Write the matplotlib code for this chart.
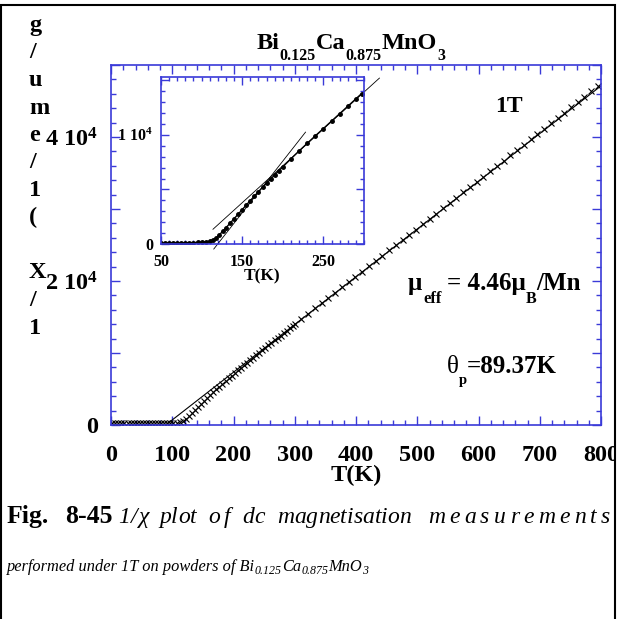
import matplotlib
matplotlib.use("Agg")
import matplotlib.pyplot as plt
from matplotlib.patches import Rectangle
from matplotlib.ticker import MultipleLocator

plt.rcParams["font.family"] = ["Liberation Serif", "DejaVu Serif"]
plt.rcParams["font.weight"] = "bold"
plt.rcParams["axes.labelweight"] = "bold"
plt.rcParams["mathtext.fontset"] = "custom"
plt.rcParams["mathtext.rm"] = "Liberation Serif:bold"
plt.rcParams["mathtext.bf"] = "Liberation Serif:bold"
plt.rcParams["mathtext.it"] = "Liberation Serif:bold"
plt.rcParams["mathtext.default"] = "rm"
plt.rcParams["xtick.direction"] = "in"
plt.rcParams["ytick.direction"] = "in"

W, H = 621, 619
BLUE = "#3a3ad8"

# main panel: 1/chi vs T, 1 T
T_main = [2, 7, 12, 17, 22, 27, 32, 37, 42, 47, 52, 57, 62, 67, 72, 77, 82, 87, 92, 97,
          102, 107, 112, 117, 122, 127, 132, 137, 142, 147, 152, 157, 162, 167, 172, 177,
          182, 187, 192, 197, 202, 207, 212, 217, 222, 227, 232, 237, 242, 247, 252, 257,
          262, 267, 272, 277, 282, 287, 292, 297,
          300, 311, 322, 333, 344, 355, 366, 377, 388, 399, 410, 421, 432, 443, 454, 465,
          476, 487, 498, 509, 520, 531, 542, 553, 564, 575, 586, 597, 608, 619, 630, 641,
          652, 663, 674, 685, 696, 707, 718, 729, 740, 751, 762, 773, 784, 795]
inv_main = [260, 250, 255, 250, 260, 255, 265, 260, 270, 265, 275, 270, 280, 285, 290, 290,
            300, 305, 310, 320,
            320, 330, 380, 560, 850, 1250, 1650, 2060, 2480, 2900, 3320, 3740, 4150, 4550,
            4950, 5340, 5720, 6100, 6480, 6850, 7220, 7580, 7940, 8300, 8650, 9000, 9350,
            9700, 10040, 10380, 10720, 11060, 11400, 11740, 12080, 12420, 12760, 13100,
            13440, 13780,
            14000, 14750, 15450, 16200, 16950, 17650, 18400, 19120, 19850, 20600, 21300,
            22050, 22800, 23500, 24250, 24980, 25700, 26450, 27150, 27900, 28650, 29350,
            30100, 30850, 31550, 32300, 33050, 33780, 34500, 35250, 35980, 36720, 37450,
            38200, 38930, 39680, 40420, 41160, 41900, 42640, 43380, 44120, 44860, 45600,
            46340, 47080]
fit_T = [89.37, 800]
fit_v = [0, 47100]

# inset: low temperature zoom
T_in = [50, 55, 60, 65, 70, 75, 80, 85, 90, 95, 100, 105, 110, 114, 118, 122, 126, 130,
        135, 140, 145, 150, 155, 160, 165, 170, 175, 180, 185, 190, 195, 200, 210, 220,
        230, 240, 250, 260, 270, 280, 290, 297]
inv_in = [80, 80, 90, 90, 100, 100, 110, 120, 130, 150, 170, 200, 260, 380, 560, 850,
          1170, 1490, 1900, 2320, 2730, 3150, 3570, 3980, 4390, 4790, 5190, 5570, 5950,
          6330, 6700, 7070, 7800, 8520, 9220, 9910, 10580, 11260, 11940, 12620, 13300, 13780]
steep_T = [115, 228]
steep_v = [-460, 10250]
cw_T = [114, 319]
cw_v = [1350, 15200]

main_yticks = [0, 10000, 20000, 30000, 40000, 50000]
main_ylabels = ["0", "", "2 10$^4$", "", "4 10$^4$", ""]
in_yticks = [0, 5000, 10000, 15000]
in_ylabels = ["0", "", "1 10$^4$", ""]

ylabel_chars = list("g/ume/1( X/1")
caption_words = ["1/", "\u03c7", "plot", "of", "dc", "magnetisation", "measurements"]
caption_spans = [(118, 132), (139, 148), (159, 197), (208, 230), (242, 263), (277, 403), (428, 610)]

fig = plt.figure(figsize=(W / 100, H / 100), dpi=100)
r = fig.canvas.get_renderer()


def style_axes(a, major_len, minor_len):
    for s in a.spines.values():
        s.set_color(BLUE)
        s.set_linewidth(1.2)
    a.tick_params(which="both", top=True, right=True, color=BLUE, width=1)
    a.tick_params(which="major", length=major_len)
    a.tick_params(which="minor", length=minor_len)


def put(x, y, parts, ha="left"):
    """parts: (text, size, drop_px, gap_px, kwargs), placed on one baseline"""
    arts = []
    for s, size, drop, gap, kw in parts:
        t = fig.text(0, 0, s, fontsize=size, va="baseline", ha="left", **kw)
        arts.append((t, drop, gap, t.get_window_extent(r).width))
    if ha == "center":
        x -= sum(w + g for _, _, g, w in arts) / 2
    for t, drop, gap, w in arts:
        x += gap
        t.set_position((x / W, 1 - (y + drop) / H))
        x += w


def spread(x0, x1, y, word, **kw):
    """letters of one word stretched between x0 and x1 (justified caption)"""
    arts = [fig.text(0, 0, c, va="baseline", ha="left", **kw) for c in word]
    ws = [t.get_window_extent(r).width for t in arts]
    extra = max(0.0, (x1 - x0 - sum(ws)) / max(len(word) - 1, 1))
    x = x0
    for t, w in zip(arts, ws):
        t.set_position((x / W, 1 - y / H))
        x += w + extra


# main axes
ax = fig.add_axes([111 / W, 1 - 425 / H, 490 / W, 360 / H])
ax.plot(T_main, inv_main, ls="none", marker="x", ms=4.5, mew=0.8, color="k")
ax.plot(fit_T, fit_v, color="k", lw=0.8)
ax.set_xlim(0, 800)
ax.set_ylim(0, 50000)
ax.set_xticks(range(0, 801, 100))
ax.xaxis.set_minor_locator(MultipleLocator(20))
ax.set_yticks(main_yticks, labels=main_ylabels)
ax.yaxis.set_minor_locator(MultipleLocator(2000))
style_axes(ax, 6.5, 3.6)
ax.tick_params(axis="x", pad=14.4, labelsize=17.5)
ax.tick_params(axis="y", pad=9.4, labelsize=17.5)
ax.set_xlabel("T(K)", fontsize=17.5, fontweight="bold", va="top")
ax.xaxis.set_label_coords(0.5, -(465 - 425) / 360)

# inset axes
axin = fig.add_axes([161 / W, 1 - 244 / H, 203 / W, 167 / H])
axin.plot(T_in, inv_in, marker="o", ms=2.5, lw=1, color="k")
axin.plot(steep_T, steep_v, color="k", lw=0.6, clip_on=False)
axin.plot(cw_T, cw_v, color="k", lw=0.6, clip_on=False)
axin.set_xlim(50, 300)
axin.set_ylim(0, 15300)
axin.set_xticks([50, 150, 250])
axin.xaxis.set_minor_locator(MultipleLocator(10))
axin.set_yticks(in_yticks, labels=in_ylabels)
axin.yaxis.set_minor_locator(MultipleLocator(1000))
style_axes(axin, 5.8, 3.2)
axin.tick_params(axis="x", pad=7.5, labelsize=11.5)
axin.tick_params(axis="y", pad=5.8, labelsize=11.5)
axin.set_xlabel("T(K)", fontsize=12.5, fontweight="bold", va="top")
axin.xaxis.set_label_coords(0.5, -(268 - 244) / 167)

# stacked y label
for k, ch in enumerate(ylabel_chars):
    fig.text(29 / W, 1 - (31 + k * 27.5) / H, ch, fontsize=17.5, ha="left", va="baseline")

# title and annotations
put(351, 49, [("Bi", 17.5, 0, 0, {}), ("0.125", 11.5, 10.5, 0, {}),
              ("Ca", 17.5, 0, 0, {}), ("0.875", 11.5, 10.5, 0, {}),
              ("MnO", 17.5, 0, 0, {}), ("3", 11.5, 10.5, 0, {})], ha="center")
fig.text(495 / W, 1 - 111.5 / H, "1T", fontsize=17, va="baseline")
put(408, 290, [("\u03bc", 18, 0, 0, {}), ("eff", 12, 13, 1, {}),
               ("= 4.46\u03bc", 18, 0, 5, {}), ("B", 11.5, 13, 0, {}),
               ("/Mn", 18, 0, 0, {})])
put(447, 373, [("\u03b8", 18, 0, 0, {"fontweight": "normal"}), ("p", 10.5, 11, 0, {}),
               ("=89.37K", 18, 0, 0, {})])

# caption
fig.text(7 / W, 1 - 523 / H, "Fig.", fontsize=18.5, va="baseline")
fig.text(65 / W, 1 - 523 / H, "8-45", fontsize=18.5, va="baseline")
for word, (x0, x1) in zip(caption_words, caption_spans):
    spread(x0, x1, 523, word, fontsize=17, fontweight="normal", fontstyle="italic")
it = {"fontweight": "normal", "fontstyle": "italic"}
put(7, 571, [("performed under 1T on powders of Bi", 11.8, 0, 0, it), ("0.125", 8.6, 3.5, 0, it),
             ("Ca", 11.8, 0, 0, it), ("0.875", 8.6, 3.5, 0, it),
             ("MnO", 11.8, 0, 0, it), ("3", 8.6, 3.5, 0, it)])

# page frame
fig.patches.append(Rectangle((616 / W, 0), 10 / W, 1, transform=fig.transFigure,
                             fc="white", ec="none", zorder=9))
fig.patches.append(Rectangle((1 / W, -0.1), 613.5 / W, 1.1 - 5 / H, transform=fig.transFigure,
                             fill=False, ec="k", lw=1.5, zorder=10))

fig.savefig("out.png", dpi=100)
